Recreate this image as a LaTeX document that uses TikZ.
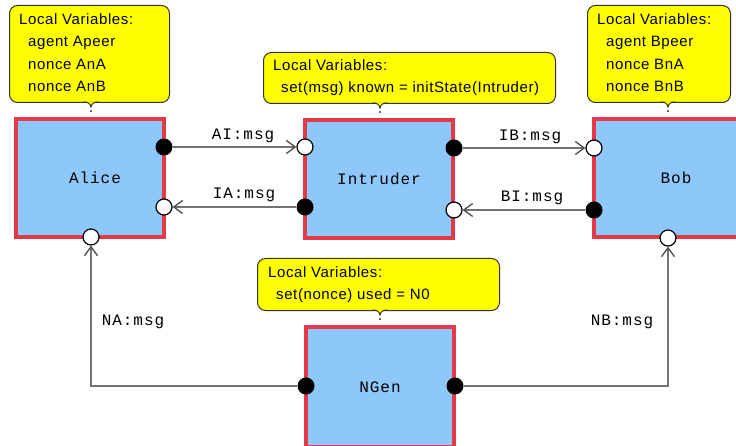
\documentclass[tikz,border=0pt]{standalone}
\usepackage{fontspec}
\usetikzlibrary{arrows.meta}
\newfontfamily\cofont[LetterSpace=4]{Liberation Sans}
\newfontfamily\lblfont[LetterSpace=6]{Liberation Mono}
\definecolor{boxblue}{RGB}{142,200,250}
\definecolor{boxred}{RGB}{228,58,72}
\definecolor{coyellow}{RGB}{255,255,0}
\definecolor{conngray}{RGB}{115,115,115}
\definecolor{coline}{RGB}{50,50,50}
\begin{document}
\begin{tikzpicture}[x=1pt,y=-1pt,
  agent/.style={rectangle, draw=boxred, fill=boxblue, line width=3.5pt, inner sep=0pt,
    font=\lblfont\fontsize{16}{18}\selectfont},
  callout/.style={rectangle, rounded corners=8pt, draw=coline, fill=coyellow, line width=1pt,
    anchor=north west, inner sep=0pt},
  cotext/.style={anchor=north west, inner sep=0pt, align=left,
    font=\cofont\fontsize{15}{22.5}\selectfont},
  conn/.style={draw=conngray, line width=2.2pt,
    -{Straight Barb[length=9pt,width=13pt,line width=1.3pt,color=black!70]}},
  msglbl/.style={inner sep=0pt, font=\lblfont\fontsize{16}{18}\selectfont},
  odot/.style={circle, draw=black, fill=white, line width=1.2pt, minimum size=16pt, inner sep=0pt},
  fdot/.style={circle, fill=black, minimum size=17pt, inner sep=0pt},
  pointer/.style={draw=coline, line width=1pt, fill=coyellow}
]
\useasboundingbox (0,0) rectangle (736,446);
\clip (0,0) rectangle (736,446);

% callouts
\node[callout, minimum width=160pt, minimum height=97pt] (ca) at (9,5) {};
\draw[pointer] (83,102) .. controls (88,102) and (90,103) .. (91,107) .. controls (92,103) and (94,102) .. (99,102);
\fill[coline] (91,111) circle (1.1pt);
\node[cotext] (cat) at (19,13) {Local Variables:\\\hspace*{9pt}agent Apeer\\\hspace*{9pt}nonce AnA\\\hspace*{9pt}nonce AnB};

\node[callout, minimum width=292pt, minimum height=51pt] (ci) at (263,52) {};
\draw[pointer] (372,103) .. controls (377,103) and (379,104) .. (380,108) .. controls (381,104) and (383,103) .. (388,103);
\fill[coline] (380,112) circle (1.1pt);
\node[cotext] (cit) at (273,59) {Local Variables:\\\hspace*{8pt}set(msg) known = initState(Intruder)};

\node[callout, minimum width=143pt, minimum height=97pt] (cb) at (587,5) {};
\draw[pointer] (660,102) .. controls (665,102) and (667,103) .. (668,107) .. controls (669,103) and (671,102) .. (676,102);
\fill[coline] (668,111) circle (1.1pt);
\node[cotext] (cbt) at (597,13) {Local Variables:\\\hspace*{9pt}agent Bpeer\\\hspace*{9pt}nonce BnA\\\hspace*{9pt}nonce BnB};

\node[callout, minimum width=242pt, minimum height=52pt] (cn) at (257,258) {};
\draw[pointer] (372,310) .. controls (377,310) and (379,311) .. (380,315) .. controls (381,311) and (383,310) .. (388,310);
\fill[coline] (380,319) circle (1.1pt);
\node[cotext] (cnt) at (268,266) {Local Variables:\\\hspace*{8pt}set(nonce) used = N0};

% agents
\node[agent, minimum width=148pt, minimum height=118pt] (alice) at (90,178) {\hspace*{10pt}Alice};
\node[agent, minimum width=148pt, minimum height=118pt] (intr) at (379,179) {Intruder};
\node[agent, minimum width=164pt, minimum height=118pt] (bob) at (676,178) {Bob};
\node[agent, minimum width=148pt, minimum height=120pt] (ngen) at (380,387) {NGen};

% ports
\node[fdot] (aout) at (164,147) {};
\node[odot] (ain) at (164,207) {};
\node[odot] (abot) at (91,237) {};
\node[odot] (iin) at (305,147) {};
\node[fdot] (iout) at (305,207) {};
\node[fdot] (iout2) at (454,148) {};
\node[odot] (iin2) at (454,210) {};
\node[odot] (bin) at (594,148) {};
\node[fdot] (bout) at (594,210) {};
\node[odot] (bbot) at (668,238) {};
\node[fdot] (nl) at (306,386) {};
\node[fdot] (nr) at (455,386) {};
\coordinate (cnl) at (91,386);
\coordinate (cnr) at (668,386);

% connectors
\draw[conn] (aout) -- (iin);
\draw[conn] (iout) -- (ain);
\draw[conn] (iout2) -- (bin);
\draw[conn] (bout) -- (iin2);
\draw[conn] (nl) -- (cnl) -- (abot);
\draw[conn] (nr) -- (cnr) -- (bbot);

% labels
\node[msglbl] (lai) at (243,136) {AI:msg};
\node[msglbl] (lia) at (244,195) {IA:msg};
\node[msglbl] (lib) at (530,137) {IB:msg};
\node[msglbl] (lbi) at (532,198) {BI:msg};
\node[msglbl] (lna) at (133,322) {NA:msg};
\node[msglbl] (lnb) at (622,322) {NB:msg};
\end{tikzpicture}
\end{document}
